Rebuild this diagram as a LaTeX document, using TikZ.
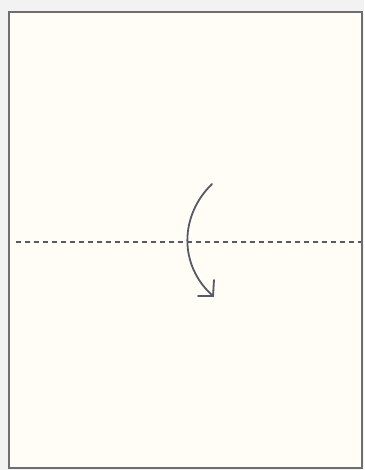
\documentclass[tikz,border=0pt]{standalone}
\definecolor{bgout}{HTML}{F2F2F2}
\definecolor{paper}{HTML}{FFFDF6}
\definecolor{edge}{HTML}{6E6E72}
\definecolor{ink}{HTML}{555A66}
\tikzset{
  paperbox/.style={draw=edge, fill=paper, line width=2pt},
  foldline/.style={draw=ink, line width=2pt, dash pattern=on 5pt off 4pt},
  foldarrow/.style={draw=ink, line width=1.8pt, line cap=round, line join=miter}
}
\begin{document}
\begin{tikzpicture}[x=1pt,y=-1pt]
\useasboundingbox (0,0) rectangle (364,470);
\fill[bgout] (0,0) rectangle (364,470);
\draw[paperbox] (9,12) rectangle (362,468);
\coordinate (fl) at (16,242);
\coordinate (fr) at (361,242);
\draw[foldline] (fl) -- (fr);
\coordinate (as) at (212,184);
\coordinate (ae) at (213,296);
\draw[foldarrow] (as) .. controls (180,215) and (178,265) .. (ae);
\draw[foldarrow] (ae) ++(-15,0) -- (ae) -- ++(1,-16);
\end{tikzpicture}
\end{document}
